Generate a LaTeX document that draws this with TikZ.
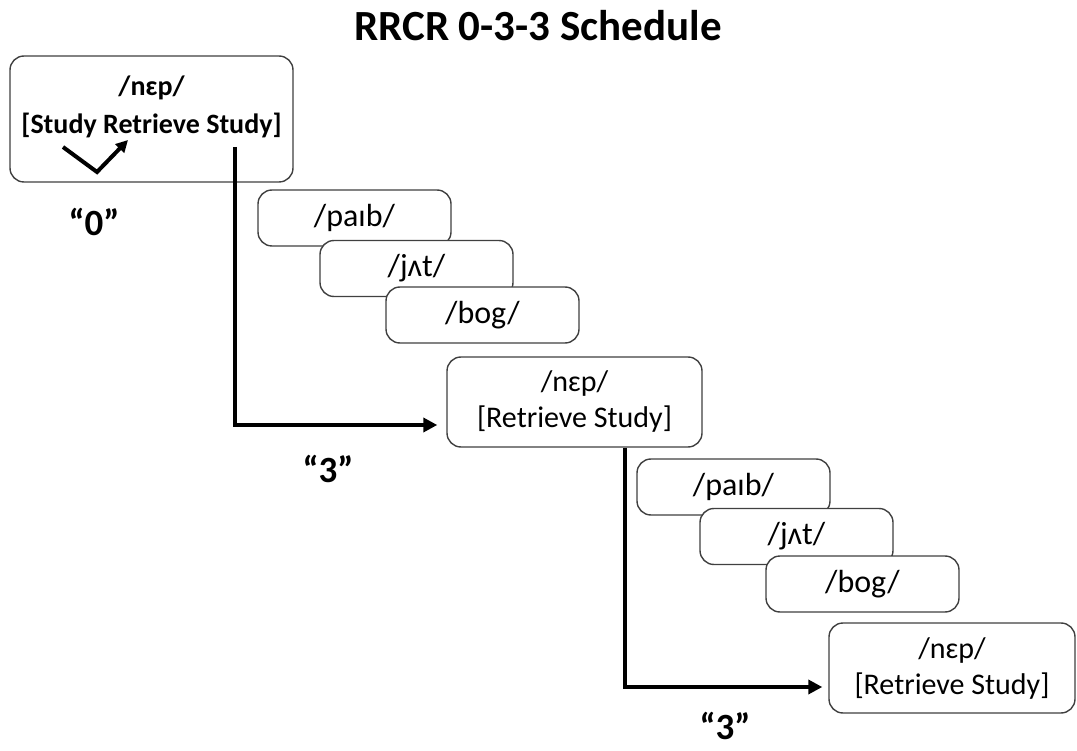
\documentclass[tikz,border=0pt]{standalone}
\usepackage{fontspec}
\setmainfont{Carlito}
\usetikzlibrary{positioning}
\usetikzlibrary{arrows.meta}

\begin{document}
\begin{tikzpicture}[x=1pt, y=-1pt,
    card/.style={draw=black!75, line width=1.4pt, fill=white, rectangle,
rounded corners=14pt, align=center, font=\fontsize{30}{36}\selectfont},
    word/.style={card, minimum width=193pt, minimum height=56pt,
font=\fontsize{32}{36}\selectfont},
    trial/.style={card, minimum width=255pt, minimum height=90pt},
    lag/.style={font=\bfseries\fontsize{37}{40}\selectfont, inner sep=0pt},
    gap/.style={line width=4pt, -{Triangle[length=14pt,width=14pt]}}]
\useasboundingbox (0,0) rectangle (1077,751);
\node[font=\bfseries\fontsize{43}{48}\selectfont] (title) at (538,26) {RRCR 0-3-3 Schedule};

% first presentation
\node[card, minimum width=283pt, minimum height=126pt] (nep0) at (151.5,119) {};
\node[align=center, font=\bfseries\fontsize{28}{38}\selectfont] (nep0txt) at (151.5,107)
  {/nɛp/\\{}[Study Retrieve Study]};
\coordinate (chka) at (63,147);
\coordinate (chkb) at (97,172);
\coordinate (chkc) at (128,140);
\draw[line width=4pt, -{Triangle[length=12pt,width=12pt]}] (chka) -- (chkb) -- (chkc);
\node[lag] (lag0) at (94,222) {“0”};

% three intervening items
\node[word] (paib1) at (354.5,218) {/paɪb/};
\node[word] (jat1) at (416.5,268.5) {/jʌt/};
\node[word] (bog1) at (482.5,315) {/bog/};

% second presentation
\node[trial] (nep1) at (574.5,402) {/nɛp/\\{}[Retrieve Study]};
\node[lag] (lag1) at (328,469) {“3”};

% three intervening items
\node[word] (paib2) at (733.5,487) {/paɪb/};
\node[word] (jat2) at (796.5,536.5) {/jʌt/};
\node[word] (bog2) at (862.5,584) {/bog/};

% third presentation
\node[trial, minimum width=246pt] (nep2) at (952,668) {/nɛp/\\{}[Retrieve Study]};
\node[lag] (lag2) at (725,726) {“3”};

\coordinate (from0) at (235,147);
\draw[gap, shorten >=9pt] (from0) |- ([yshift=-23pt]nep1.west);
\draw[gap, shorten >=6pt] ([xshift=50pt]nep1.south) |- ([yshift=-19pt]nep2.west);
\end{tikzpicture}
\end{document}
